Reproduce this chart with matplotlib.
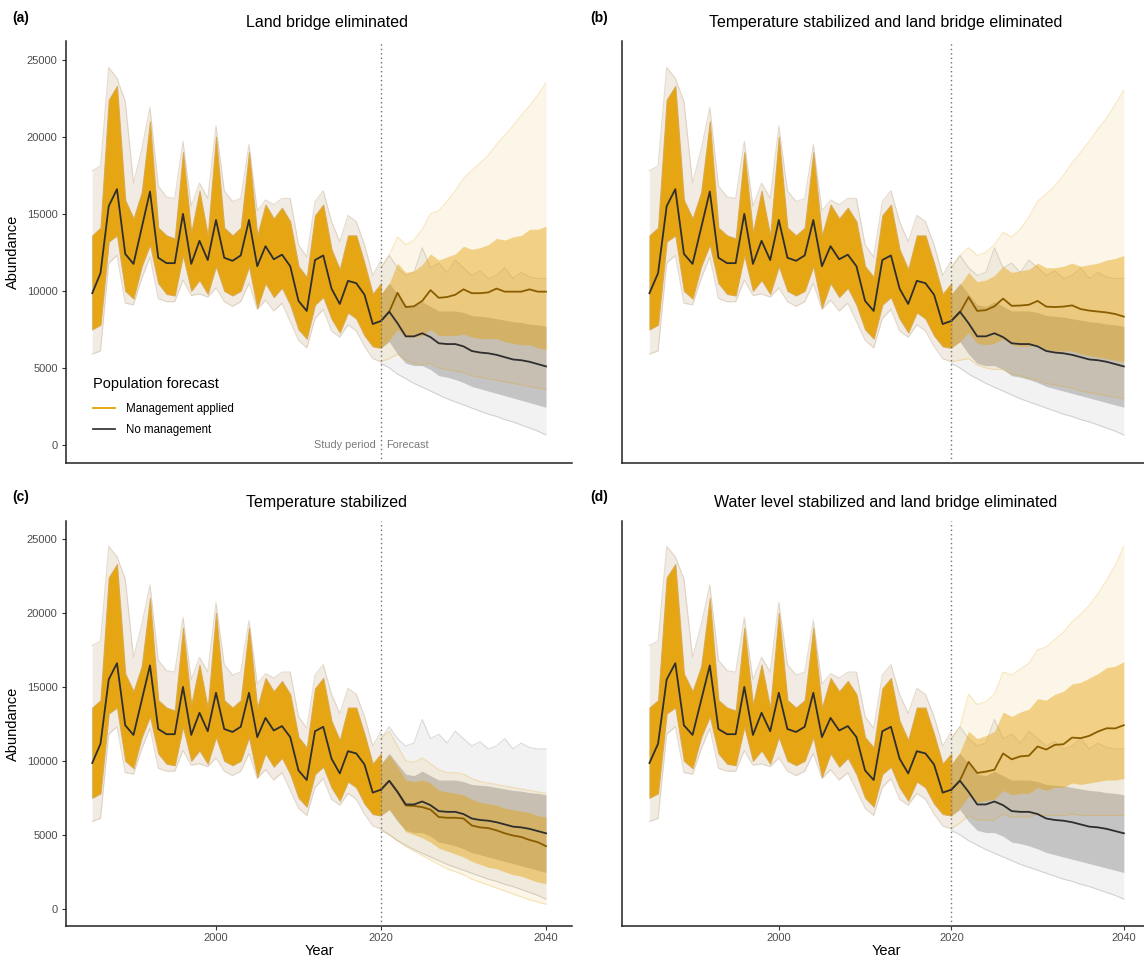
import matplotlib
matplotlib.use("Agg")
import matplotlib.pyplot as plt
from matplotlib.lines import Line2D
import numpy as np

plt.rcParams['font.family'] = ['Liberation Sans', 'DejaVu Sans']

# ---------------- data ----------------
years_hist = list(range(1985, 2021))
years_fc = list(range(2020, 2041))

hist_median = [9850, 11150, 15500, 16600, 12400, 11750, 14100, 16450, 12150, 11800,
               11800, 15000, 11750, 13250, 12000, 14600, 12150, 11950, 12300, 14600,
               11600, 12900, 12050, 12350, 11600, 9350, 8700, 12000, 12300, 10150,
               9150, 10650, 10500, 9750, 7850, 8050]
hist_lo = [7500, 7800, 13200, 13600, 10000, 9500, 11600, 13000, 10500, 9800,
           9700, 12300, 10000, 10700, 9800, 11600, 10000, 9700, 10000, 11600,
           8900, 10500, 9600, 10200, 9100, 7500, 6900, 9100, 9600, 8200,
           7300, 8600, 8200, 7100, 6400, 6300]
hist_hi = [13600, 14100, 22400, 23300, 15900, 14700, 16400, 21000, 14100, 13600,
           13400, 19000, 13800, 16500, 13600, 20000, 14100, 13600, 14100, 19000,
           13600, 15600, 14700, 15400, 14500, 11600, 10900, 14900, 15600, 12700,
           11400, 13600, 13600, 11800, 9800, 10500]
hist_min = [5900, 6100, 11800, 12300, 9200, 9100, 10800, 12200, 9500, 9300,
            9300, 10700, 9700, 9800, 9600, 10200, 9300, 9000, 9300, 10500,
            8800, 9400, 8700, 9200, 8000, 6800, 6300, 8200, 8800, 7400,
            7000, 7800, 7400, 6400, 5600, 5400]
hist_max = [17800, 18100, 24500, 23800, 22300, 17000, 19200, 21900, 16800, 16100,
            16000, 19700, 15500, 17000, 16000, 20700, 16500, 15800, 16000, 19500,
            15200, 15900, 15600, 16000, 16000, 13000, 12200, 15800, 16500, 14500,
            13200, 14900, 14500, 13000, 11000, 12000]

# No management forecast (same in every panel)
nm_median = [8050, 8650, 7900, 7050, 7050, 7250, 7000, 6600, 6550, 6550, 6400,
             6100, 6000, 5950, 5850, 5700, 5550, 5500, 5400, 5250, 5100]
nm_lo = [6300, 6700, 5900, 5300, 5150, 5150, 4900, 4500, 4400, 4250, 4050,
         3800, 3650, 3500, 3350, 3200, 3050, 2900, 2750, 2600, 2450]
nm_hi = [9800, 10500, 9800, 9100, 9000, 9300, 9000, 8700, 8700, 8700, 8600,
         8400, 8350, 8300, 8200, 8100, 8000, 7950, 7850, 7800, 7700]
nm_min = [5300, 5000, 4600, 4300, 4000, 3750, 3500, 3250, 3000, 2800, 2600,
          2400, 2200, 2000, 1850, 1650, 1500, 1300, 1100, 900, 650]
nm_max = [11500, 12300, 11500, 11000, 11200, 12800, 11500, 11800, 11200, 12000, 11500,
          11000, 11300, 10800, 11000, 11500, 10800, 11200, 10900, 10800, 10800]

# Management applied forecasts, one set per scenario
a_median = [8050, 8650, 9880, 8950, 9000, 9350, 10050, 9550, 9600, 9750, 10100,
            9850, 9850, 9900, 10150, 9950, 9950, 9950, 10100, 9950, 9950]
a_lo = [6300, 6800, 7500, 7000, 7000, 7100, 7500, 7100, 7100, 7100, 7200,
        7000, 6900, 6900, 6900, 6700, 6600, 6500, 6500, 6300, 6200]
a_hi = [9800, 10500, 11800, 11200, 11300, 11700, 12400, 12000, 12200, 12400, 12900,
        12700, 12800, 13000, 13400, 13300, 13500, 13600, 14000, 14000, 14200]
a_min = [5400, 5600, 5900, 5500, 5300, 5200, 5300, 5000, 4900, 4800, 4700,
         4500, 4400, 4300, 4200, 4100, 4000, 3900, 3800, 3700, 3600]
a_max = [11500, 12300, 13500, 13000, 13300, 14000, 15000, 15200, 15800, 16500, 17300,
         17800, 18300, 18800, 19500, 20100, 20700, 21400, 22000, 22700, 23500]

b_median = [8050, 8600, 9600, 8700, 8750, 9000, 9500, 9030, 9050, 9100, 9350,
            8980, 8950, 8980, 9060, 8820, 8720, 8660, 8600, 8500, 8330]
b_lo = [6300, 6700, 7300, 6600, 6500, 6600, 6900, 6500, 6400, 6400, 6500,
        6200, 6100, 6100, 6100, 5900, 5800, 5700, 5600, 5500, 5400]
b_hi = [9800, 10400, 11200, 10600, 10700, 11000, 11600, 11200, 11300, 11400, 11800,
        11500, 11500, 11600, 11800, 11600, 11700, 11800, 12000, 12100, 12300]
b_min = [5400, 5500, 5600, 5200, 5000, 4900, 4900, 4600, 4500, 4300, 4200,
         4000, 3900, 3800, 3700, 3500, 3400, 3300, 3200, 3100, 3000]
b_max = [11500, 12300, 12800, 12300, 12500, 13000, 13800, 13500, 14000, 14800, 15800,
         16300, 16800, 17500, 18300, 19000, 19700, 20500, 21200, 22100, 23000]

c_median = [8050, 8650, 7900, 6980, 6950, 6870, 6700, 6200, 6150, 6150, 6100,
            5630, 5500, 5450, 5300, 5100, 4950, 4850, 4650, 4500, 4230]
c_lo = [6300, 6700, 6000, 5200, 5000, 4800, 4500, 4100, 3900, 3700, 3500,
        3200, 3000, 2800, 2700, 2500, 2300, 2200, 2000, 1800, 1700]
c_hi = [9800, 10400, 9600, 8700, 8600, 8700, 8500, 8000, 7900, 7800, 7700,
        7400, 7200, 7100, 7000, 6800, 6700, 6600, 6500, 6300, 6200]
c_min = [5400, 5000, 4600, 4200, 3900, 3600, 3300, 3000, 2700, 2500, 2300,
         2000, 1800, 1600, 1400, 1200, 1000, 800, 600, 450, 300]
c_max = [11500, 12000, 11000, 10000, 9900, 10200, 9800, 9400, 9200, 9200, 9100,
         8800, 8600, 8500, 8400, 8300, 8200, 8100, 8000, 7900, 7800]

d_median = [8050, 8680, 9930, 9180, 9270, 9400, 10500, 10100, 10300, 10350, 10970,
            10760, 11080, 11120, 11570, 11530, 11690, 11980, 12200, 12190, 12410]
d_lo = [6300, 6800, 7600, 7200, 7300, 7400, 8000, 7700, 7800, 7800, 8200,
        8000, 8200, 8200, 8500, 8400, 8500, 8600, 8700, 8700, 8800]
d_hi = [9800, 10600, 12000, 11500, 11700, 12000, 13300, 13000, 13300, 13500, 14200,
        14100, 14500, 14700, 15200, 15300, 15600, 15900, 16300, 16400, 16700]
d_min = [5400, 5800, 6300, 6000, 6000, 6000, 6400, 6200, 6200, 6200, 6400,
         6300, 6300, 6300, 6400, 6300, 6300, 6300, 6300, 6300, 6300]
d_max = [11500, 12300, 14500, 13800, 14000, 14500, 16000, 15800, 16200, 16600, 17500,
         17700, 18200, 18700, 19400, 19900, 20500, 21300, 22200, 23200, 24500]

panel_labels = ["(a)", "(b)", "(c)", "(d)"]
panel_titles = ["Land bridge eliminated",
                "Temperature stabilized and land bridge eliminated",
                "Temperature stabilized",
                "Water level stabilized and land bridge eliminated"]
legend_title = "Population forecast"
legend_labels = ["Management applied", "No management"]
y_ticks = [0, 5000, 10000, 15000, 20000, 25000]
x_ticks = [2000, 2020, 2040]

mgmt = [
    (a_median, a_lo, a_hi, a_min, a_max),
    (b_median, b_lo, b_hi, b_min, b_max),
    (c_median, c_lo, c_hi, c_min, c_max),
    (d_median, d_lo, d_hi, d_min, d_max),
]

# ---------------- style ----------------
ORANGE = '#E69F00'
ORANGE_MED = '#8A5C00'
BLACK_MED = '#2E2E2E'
GREY = '#8E8E8E'
TAN = '#C7B296'
TICK_COL = '#4D4D4D'

W, H = 1144, 960
fig = plt.figure(figsize=(W / 100, H / 100), dpi=100)

XLIM = (1981.82, 2043.15)
YLIM = (-1168, 26214)

def px_axes(left, top, right, bottom):
    return fig.add_axes([left / W, 1 - bottom / H, (right - left) / W, (bottom - top) / H])

axes = [
    px_axes(66, 41, 572, 463),
    px_axes(622, 41, 1151, 463),
    px_axes(66, 521, 572, 926),
    px_axes(622, 521, 1151, 926),
]

title_x = [327, 886, 327, 886]
title_y = [22, 22, 503, 503]
label_x = [21, 599, 21, 599]
label_y = [18, 18, 497, 497]

for i, ax in enumerate(axes):
    med, lo, hi, mn, mx = mgmt[i]
    # study period envelope (faint individual runs)
    ax.fill_between(years_hist, hist_min, hist_max, color='#DCCDBA', alpha=0.40, lw=0, zorder=1)
    ax.plot(years_hist, hist_max, color=TAN, alpha=0.45, lw=0.8, zorder=1)
    ax.plot(years_hist, hist_min, color=TAN, alpha=0.45, lw=0.8, zorder=1)
    # dense core of runs
    ax.fill_between(years_hist, hist_lo, hist_hi, color=ORANGE, alpha=0.92, lw=0.8,
                    edgecolor='#D8A850', zorder=2)

    # forecast: no management
    ax.fill_between(years_fc, nm_min, nm_max, color='#C8C8C8', alpha=0.22, lw=0, zorder=2)
    ax.plot(years_fc, nm_min, color='#B5B5B5', alpha=0.55, lw=0.8, zorder=2)
    ax.plot(years_fc, nm_max, color='#C0C0C0', alpha=0.55, lw=0.8, zorder=2)
    ax.fill_between(years_fc, nm_lo, nm_hi, color=GREY, alpha=0.45, lw=0, zorder=2)

    # forecast: management applied
    ax.fill_between(years_fc, mn, mx, color=ORANGE, alpha=0.09, lw=0, zorder=3)
    ax.plot(years_fc, mx, color=ORANGE, alpha=0.25, lw=0.8, zorder=3)
    ax.plot(years_fc, mn, color=ORANGE, alpha=0.25, lw=0.8, zorder=3)
    ax.fill_between(years_fc, lo, hi, color=ORANGE, alpha=0.42, lw=0, zorder=3)

    # medians
    ax.plot(years_fc, med, color=ORANGE_MED, lw=1.3, zorder=5)
    ax.plot(years_hist, hist_median, color=BLACK_MED, lw=1.3, zorder=6)
    ax.plot(years_fc, nm_median, color=BLACK_MED, lw=1.3, zorder=6)

    ax.axvline(2020, color='#707070', ls=(0, (1, 2.2)), lw=1.0, zorder=7)

    ax.set_xlim(*XLIM)
    ax.set_ylim(*YLIM)
    for s in ['top', 'right']:
        ax.spines[s].set_visible(False)
    for s in ['left', 'bottom']:
        ax.spines[s].set_linewidth(1.1)
        ax.spines[s].set_color('#222222')
    ax.set_facecolor('white')

    left_col = i in (0, 2)
    bottom_row = i in (2, 3)
    if left_col:
        ax.set_yticks(y_ticks)
        ax.set_yticklabels([str(v) for v in y_ticks], fontsize=8, color=TICK_COL)
        ax.tick_params(axis='y', length=3, width=0.8, color='#333333', pad=3)
        ax.set_ylabel("Abundance", fontsize=10.5, labelpad=5)
    else:
        ax.set_yticks([])
    if bottom_row:
        ax.set_xticks(x_ticks)
        ax.set_xticklabels([str(v) for v in x_ticks], fontsize=8, color=TICK_COL)
        ax.tick_params(axis='x', length=3, width=0.8, color='#333333', pad=2)
        ax.set_xlabel("Year", fontsize=10.5, labelpad=1)
    else:
        ax.set_xticks([])

    fig.text(title_x[i] / W, 1 - title_y[i] / H, panel_titles[i], ha='center', va='center',
             fontsize=11.5)
    fig.text(label_x[i] / W, 1 - label_y[i] / H, panel_labels[i], ha='center', va='center',
             fontsize=10, fontweight='bold')

# annotations in panel (a)
ax = axes[0]
ax.text(2019.4, 0, "Study period", ha='right', va='center', fontsize=7.8, color='#7A7A7A')
ax.text(2020.6, 0, "Forecast", ha='left', va='center', fontsize=7.8, color='#7A7A7A')

handles = [Line2D([], [], color=ORANGE, lw=1.3), Line2D([], [], color='#3A3A3A', lw=1.3)]
leg = ax.legend(handles, legend_labels, title=legend_title, loc='upper left',
                bbox_to_anchor=(0.045, 0.215), frameon=False, fontsize=8.3,
                title_fontsize=10.5, alignment='left', handlelength=1.9,
                handletextpad=0.9, labelspacing=0.75, borderaxespad=0)
leg._legend_box.sep = 9

fig.savefig("out.png", dpi=100, facecolor='white')
